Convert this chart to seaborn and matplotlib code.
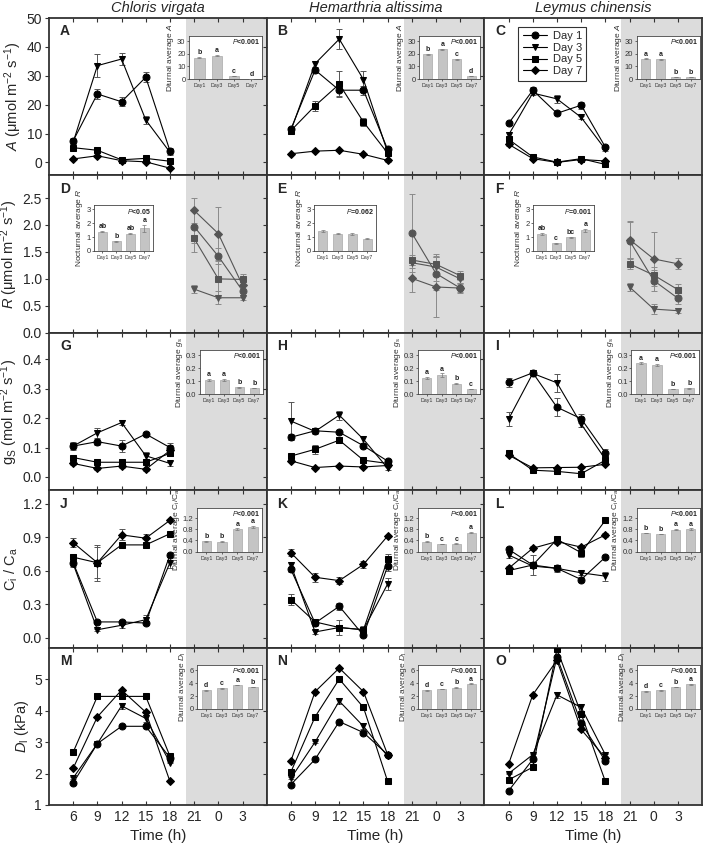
import numpy as np
import pandas as pd
import matplotlib
matplotlib.use("Agg")
import matplotlib.pyplot as plt
import seaborn as sns

# ---------------------------------------------------------------- data
SPECIES = ["Chloris virgata", "Hemarthria altissima", "Leymus chinensis"]
DAYS = ["Day 1", "Day 3", "Day 5", "Day 7"]
BAR_DAYS = ["Day1", "Day3", "Day5", "Day7"]
DAY_HOURS = [6, 9, 12, 15, 18]
NIGHT_HOURS = [21, 24, 27]
TIME_TICKS = [6, 9, 12, 15, 18, 21, 24, 27]
TIME_LABELS = ["6", "9", "12", "15", "18", "21", "0", "3"]

# net photosynthesis A (rows: Day 1, 3, 5, 7)
A_CV = [[7.5, 23.7, 21.0, 29.5, 4.0], [7.0, 33.5, 35.8, 14.7, 3.5],
        [5.1, 4.2, 0.9, 1.4, 0.4], [1.2, 2.3, 0.6, 0.2, -2.0]]
A_CV_ERR = [[1.0, 1.8, 1.5, 1.8, 1.0], [0.6, 4.0, 2.0, 1.5, 1.0],
            [0.6, 0.6, 0.5, 0.5, 0.3], [0.3, 0.4, 0.3, 0.3, 0.4]]
A_HA = [[11.5, 32.0, 25.0, 25.0, 4.5], [11.0, 34.2, 42.7, 28.7, 3.5],
        [11.0, 19.6, 27.1, 14.0, 3.2], [3.0, 3.9, 4.2, 2.8, 0.7]]
A_HA_ERR = [[0.8, 1.0, 2.0, 1.5, 0.8], [0.8, 1.0, 3.5, 3.0, 0.8],
            [0.8, 1.8, 4.5, 1.5, 0.8], [0.4, 0.4, 0.4, 0.4, 0.4]]
A_LC = [[13.5, 25.0, 17.0, 19.8, 5.3], [9.5, 24.0, 22.0, 15.6, 4.5],
        [8.0, 1.9, 0.1, 1.3, -0.7], [6.3, 1.3, 0.0, 1.0, 0.5]]
A_LC_ERR = [[0.5, 1.0, 0.6, 1.2, 0.8], [1.0, 0.8, 1.5, 0.6, 0.6],
            [0.6, 0.5, 0.5, 0.4, 0.4], [0.5, 0.5, 0.4, 0.4, 0.4]]

# night respiration R
R_CV = [[1.97, 1.42, 0.78], [0.81, 0.65, 0.65], [1.75, 1.0, 0.99], [2.27, 1.84, 0.88]]
R_CV_ERR = [[0.3, 0.15, 0.08], [0.07, 0.12, 0.04], [0.25, 0.35, 0.1], [0.23, 0.5, 0.1]]
R_HA = [[1.85, 1.1, 0.83], [1.30, 1.22, 1.0], [1.35, 1.27, 1.06], [1.01, 0.85, 0.83]]
R_HA_ERR = [[0.73, 0.3, 0.1], [0.1, 0.25, 0.08], [0.1, 0.15, 0.08], [0.25, 0.55, 0.08]]
R_LC = [[1.71, 0.97, 0.64], [0.85, 0.44, 0.41], [1.28, 1.07, 0.80], [1.73, 1.37, 1.28]]
R_LC_ERR = [[0.35, 0.2, 0.1], [0.07, 0.1, 0.05], [0.1, 0.15, 0.1], [0.35, 0.5, 0.1]]

# stomatal conductance gs
G_CV = [[0.105, 0.12, 0.105, 0.146, 0.10], [0.105, 0.15, 0.185, 0.072, 0.046],
        [0.066, 0.05, 0.05, 0.05, 0.08], [0.046, 0.029, 0.037, 0.026, 0.09]]
G_CV_ERR = [[0.015, 0.01, 0.02, 0.008, 0.015], [0.01, 0.017, 0.01, 0.012, 0.008],
            [0.005, 0.005, 0.005, 0.005, 0.01], [0.005, 0.005, 0.005, 0.005, 0.02]]
G_HA = [[0.135, 0.157, 0.152, 0.106, 0.054], [0.19, 0.155, 0.21, 0.128, 0.03],
        [0.071, 0.094, 0.125, 0.057, 0.046], [0.055, 0.032, 0.037, 0.034, 0.039]]
G_HA_ERR = [[0.01, 0.008, 0.005, 0.005, 0.006], [0.065, 0.01, 0.015, 0.012, 0.005],
            [0.006, 0.015, 0.01, 0.008, 0.006], [0.004, 0.003, 0.003, 0.003, 0.003]]
G_LC = [[0.322, 0.354, 0.237, 0.198, 0.082], [0.197, 0.352, 0.32, 0.18, 0.06],
        [0.08, 0.023, 0.019, 0.011, 0.057], [0.074, 0.031, 0.032, 0.033, 0.043]]
G_LC_ERR = [[0.015, 0.008, 0.03, 0.015, 0.012], [0.025, 0.01, 0.03, 0.01, 0.006],
            [0.005, 0.004, 0.004, 0.003, 0.005], [0.004, 0.003, 0.003, 0.003, 0.004]]

# Ci / Ca
C_CV = [[0.67, 0.14, 0.14, 0.13, 0.74], [0.66, 0.07, 0.11, 0.16, 0.67],
        [0.72, 0.67, 0.83, 0.83, 0.93], [0.85, 0.67, 0.92, 0.89, 1.05]]
C_CV_ERR = [[0.03, 0.01, 0.02, 0.02, 0.02], [0.03, 0.01, 0.02, 0.04, 0.05],
            [0.03, 0.14, 0.02, 0.01, 0.01], [0.04, 0.16, 0.05, 0.04, 0.01]]
C_HA = [[0.61, 0.13, 0.28, 0.02, 0.64], [0.65, 0.05, 0.09, 0.07, 0.48],
        [0.34, 0.14, 0.09, 0.07, 0.70], [0.76, 0.54, 0.51, 0.655, 0.91]]
C_HA_ERR = [[0.02, 0.03, 0.03, 0.01, 0.04], [0.03, 0.02, 0.02, 0.02, 0.05],
            [0.05, 0.03, 0.07, 0.03, 0.05], [0.03, 0.04, 0.03, 0.03, 0.01]]
C_LC = [[0.79, 0.65, 0.62, 0.52, 0.72], [0.74, 0.64, 0.62, 0.58, 0.55],
        [0.60, 0.65, 0.88, 0.76, 1.05], [0.62, 0.80, 0.86, 0.81, 0.92]]
C_LC_ERR = [[0.02, 0.02, 0.02, 0.02, 0.02], [0.03, 0.02, 0.03, 0.02, 0.04],
            [0.03, 0.09, 0.02, 0.04, 0.01], [0.02, 0.02, 0.02, 0.02, 0.02]]

# leaf-to-air vapour pressure deficit Dl
D_CV = [[1.70, 2.95, 3.50, 3.50, 2.50], [1.86, 2.95, 4.15, 3.75, 2.35],
        [2.68, 4.45, 4.45, 4.45, 2.55], [2.17, 3.80, 4.65, 3.95, 1.75]]
D_HA = [[1.65, 2.45, 3.65, 3.30, 2.60], [1.85, 3.00, 4.30, 3.50, 2.55],
        [2.05, 3.80, 5.00, 4.10, 1.75], [2.40, 4.60, 5.35, 4.60, 2.60]]
D_LC = [[1.45, 2.45, 5.70, 3.60, 2.40], [2.00, 2.60, 4.50, 4.10, 2.60],
        [1.80, 2.20, 5.95, 3.90, 1.75], [2.30, 4.50, 5.60, 3.40, 2.50]]
D_ERR = [[0.03] * 5, [0.03, 0.03, 0.1, 0.1, 0.03], [0.03] * 5, [0.03] * 5]

# inset bar charts (Day1, Day3, Day5, Day7)
A_BARS = [[17.0, 18.5, 2.5, 0.3], [19.5, 23.5, 15.5, 2.5], [16.0, 15.5, 1.5, 1.5]]
A_BARS_ERR = [[0.5, 0.6, 0.3, 0.1], [0.6, 0.6, 0.6, 0.3], [0.3, 0.3, 0.2, 0.2]]
A_LETTERS = [["b", "a", "c", "d"], ["b", "a", "c", "d"], ["a", "a", "b", "b"]]
A_P = ["P<0.001", "P<0.001", "P<0.001"]

R_BARS = [[1.4, 0.7, 1.25, 1.65], [1.45, 1.25, 1.22, 0.9], [1.2, 0.55, 1.0, 1.5]]
R_BARS_ERR = [[0.05, 0.04, 0.04, 0.25], [0.08, 0.04, 0.06, 0.04], [0.07, 0.04, 0.04, 0.1]]
R_LETTERS = [["ab", "b", "ab", "a"], ["", "", "", ""], ["ab", "c", "bc", "a"]]
R_P = ["P<0.05", "P=0.062", "P=0.001"]

G_BARS = [[0.11, 0.11, 0.055, 0.048], [0.125, 0.145, 0.08, 0.04], [0.24, 0.225, 0.04, 0.045]]
G_BARS_ERR = [[0.005, 0.005, 0.004, 0.003], [0.01, 0.015, 0.005, 0.003], [0.005, 0.006, 0.003, 0.003]]
G_LETTERS = [["a", "a", "b", "b"], ["a", "a", "b", "c"], ["a", "a", "b", "b"]]
G_P = ["P<0.001", "P<0.001", "P<0.001"]

C_BARS = [[0.37, 0.35, 0.8, 0.88], [0.35, 0.27, 0.28, 0.68], [0.66, 0.63, 0.79, 0.80]]
C_BARS_ERR = [[0.02, 0.02, 0.03, 0.03], [0.02, 0.01, 0.01, 0.02], [0.01, 0.01, 0.01, 0.03]]
C_LETTERS = [["b", "b", "a", "a"], ["b", "c", "c", "a"], ["b", "b", "a", "a"]]
C_P = ["P<0.001", "P<0.001", "P<0.001"]

D_BARS = [[2.9, 3.2, 3.7, 3.4], [2.9, 3.1, 3.3, 3.9], [2.7, 2.9, 3.4, 3.8]]
D_BARS_ERR = [[0.05, 0.05, 0.05, 0.05], [0.05, 0.05, 0.05, 0.05], [0.05, 0.05, 0.05, 0.05]]
D_LETTERS = [["d", "c", "a", "b"], ["d", "c", "b", "a"], ["d", "c", "b", "a"]]
D_P = ["P<0.001", "P<0.001", "P<0.001"]

# ---------------------------------------------------------------- style
sns.set_theme(style="ticks")
plt.rcParams['font.family'] = ['Liberation Sans', 'DejaVu Sans']
plt.rcParams['mathtext.fontset'] = 'custom'
plt.rcParams['mathtext.rm'] = 'Liberation Sans'
plt.rcParams['mathtext.it'] = 'Liberation Sans:italic'
plt.rcParams['mathtext.bf'] = 'Liberation Sans:bold'

MARKERS = {"Day 1": "o", "Day 3": "v", "Day 5": "s", "Day 7": "D"}
NIGHT_BG = "#dcdcdc"
SPINE = "#333333"

W, H = 708, 851
LEFT, PW, TOP, PH = 49, 217.7, 18, 157.4


def panel_rect(r, c):
    x = LEFT + c * PW
    y_bottom = TOP + (r + 1) * PH
    return [x / W, 1 - y_bottom / H, PW / W, PH / H]


def draw_lines(ax, hours, means, errs, color, ecolor, legend=False):
    rows = []
    for day, vals in zip(DAYS, means):
        for h, v in zip(hours, vals):
            rows.append({"time": h, "value": v, "day": day})
    df = pd.DataFrame(rows)
    for vals, err in zip(means, errs):
        ax.errorbar(hours, vals, yerr=err, fmt="none", ecolor=ecolor,
                    elinewidth=0.7, capsize=2.2, capthick=0.7, zorder=2)
    sns.lineplot(data=df, x="time", y="value", hue="day", style="day",
                 markers=MARKERS, dashes=False, palette=[color] * 4,
                 markersize=5, markeredgecolor=color, linewidth=0.8,
                 legend=legend, ax=ax, zorder=3)
    # diamonds look smaller in the original
    for ln in ax.get_lines():
        if ln.get_marker() == "D":
            ln.set_markersize(4)


def draw_inset(ax, rect, vals, errs, letters, ptext, yticks, ylabel, top):
    ins = ax.inset_axes(rect)
    ins.set_facecolor("white")
    sns.barplot(x=BAR_DAYS, y=vals, color="#c4c4c4", width=0.6,
                edgecolor="#9a9a9a", linewidth=0.4, ax=ins, zorder=2)
    ins.errorbar(range(4), vals, yerr=errs, fmt="none", ecolor="#777777",
                 elinewidth=0.5, capsize=1.2, capthick=0.5, zorder=3)
    ins.set_ylim(yticks[0], top)
    ins.set_xlim(-0.6, 3.6)
    ins.set_yticks(yticks)
    ins.set_yticklabels([f"{t:g}" if isinstance(t, int) else f"{t:.1f}" for t in yticks])
    for i, (v, e, l) in enumerate(zip(vals, errs, letters)):
        if l:
            ins.text(i, v + e + top * 0.02, l, ha="center", va="bottom",
                     fontsize=5, fontweight="bold", color="#222222")
    post = ptext[1:]
    ins.text(0.97, 0.97, r"$\mathbf{\it{P}}$" + post, transform=ins.transAxes,
             ha="right", va="top", fontsize=5, fontweight="bold", color="#222222")
    ins.set_xlabel("")
    ins.set_ylabel(ylabel, fontsize=6, labelpad=1, color="#333333")
    ins.tick_params(axis="x", labelsize=3.8, length=1.5, width=0.5, pad=1.5, colors="#333333")
    ins.tick_params(axis="y", labelsize=5.5, length=1.5, width=0.5, pad=1, colors="#333333")
    for s in ins.spines.values():
        s.set_linewidth(0.6)
        s.set_color("#444444")
    return ins


ROWS = [
    dict(means=[A_CV, A_HA, A_LC], errs=[A_CV_ERR, A_HA_ERR, A_LC_ERR], hours=DAY_HOURS,
         ylim=(-4.5, 50), yticks=[0, 10, 20, 30, 40, 50], yfmt="{:g}",
         ylabel=r"$\it{A}$ (μmol m$^{-2}$ s$^{-1}$)",
         bars=A_BARS, bars_err=A_BARS_ERR, letters=A_LETTERS, p=A_P,
         bar_ticks=[0, 10, 20, 30], bar_top=34, bar_label=r"Diurnal average $\it{A}$",
         inset_x=[0.643, 0.70, 0.70], inset_w=[0.335, 0.28, 0.29], inset_y=0.612, inset_h=0.273,
         color="black", ecolor="#555555"),
    dict(means=[R_CV, R_HA, R_LC], errs=[R_CV_ERR, R_HA_ERR, R_LC_ERR], hours=NIGHT_HOURS,
         ylim=(0, 2.92), yticks=[0.0, 0.5, 1.0, 1.5, 2.0, 2.5], yfmt="{:.1f}",
         ylabel=r"$\it{R}$ (μmol m$^{-2}$ s$^{-1}$)",
         bars=R_BARS, bars_err=R_BARS_ERR, letters=R_LETTERS, p=R_P,
         bar_ticks=[0, 1, 2, 3], bar_top=3.3, bar_label=r"Nocturnal average $\it{R}$",
         inset_x=[0.207, 0.217, 0.223], inset_w=[0.27, 0.285, 0.28], inset_y=0.52, inset_h=0.29,
         color="#555555", ecolor="#8a8a8a"),
    dict(means=[G_CV, G_HA, G_LC], errs=[G_CV_ERR, G_HA_ERR, G_LC_ERR], hours=DAY_HOURS,
         ylim=(-0.045, 0.49), yticks=[0.0, 0.1, 0.2, 0.3, 0.4], yfmt="{:.1f}",
         ylabel=r"g$_{\rm S}$ (mol m$^{-2}$ s$^{-1}$)",
         bars=G_BARS, bars_err=G_BARS_ERR, letters=G_LETTERS, p=G_P,
         bar_ticks=[0.0, 0.1, 0.2, 0.3], bar_top=0.34, bar_label=r"Diurnal average $\it{g}$$_{\rm s}$",
         inset_x=[0.694, 0.695, 0.675], inset_w=[0.29, 0.285, 0.31], inset_y=0.61, inset_h=0.28,
         color="black", ecolor="#555555"),
    dict(means=[C_CV, C_HA, C_LC], errs=[C_CV_ERR, C_HA_ERR, C_LC_ERR], hours=DAY_HOURS,
         ylim=(-0.09, 1.32), yticks=[0.0, 0.3, 0.6, 0.9, 1.2], yfmt="{:.1f}",
         ylabel=r"C$_{\rm i}$ / C$_{\rm a}$",
         bars=C_BARS, bars_err=C_BARS_ERR, letters=C_LETTERS, p=C_P,
         bar_ticks=[0.0, 0.4, 0.8, 1.2], bar_top=1.58, bar_label=r"Diurnal average C$_{\rm i}$/C$_{\rm a}$",
         inset_x=[0.68, 0.695, 0.70], inset_w=[0.30, 0.285, 0.29], inset_y=0.61, inset_h=0.28,
         color="black", ecolor="#555555"),
    dict(means=[D_CV, D_HA, D_LC], errs=[D_ERR, D_ERR, D_ERR], hours=DAY_HOURS,
         ylim=(1, 6), yticks=[1, 2, 3, 4, 5], yfmt="{:g}",
         ylabel=r"$\it{D}$$_{\rm l}$ (kPa)",
         bars=D_BARS, bars_err=D_BARS_ERR, letters=D_LETTERS, p=D_P,
         bar_ticks=[0, 2, 4, 6], bar_top=6.8, bar_label=r"Diurnal average $\it{D}$$_{\rm l}$",
         inset_x=[0.68, 0.695, 0.70], inset_w=[0.30, 0.285, 0.29], inset_y=0.61, inset_h=0.28,
         color="black", ecolor="#555555"),
]

LETTERS = "ABCDEFGHIJKLMNO"

fig = plt.figure(figsize=(7.08, 8.51), dpi=100)

for r, row in enumerate(ROWS):
    for c in range(3):
        ax = fig.add_axes(panel_rect(r, c))
        ax.axvspan(20, 30, color=NIGHT_BG, zorder=0, lw=0)
        draw_lines(ax, row["hours"], row["means"][c], row["errs"][c],
                   row["color"], row["ecolor"], legend=(r == 0 and c == 2))
        ax.set_xlim(3, 30)
        ax.set_ylim(*row["ylim"])
        ax.set_xticks(TIME_TICKS)
        ax.set_yticks(row["yticks"])
        ax.tick_params(axis="x", direction="in", top=True, bottom=True, length=3,
                       width=0.8, color=SPINE, labelsize=10)
        ax.tick_params(axis="y", direction="out", left=True, length=3, width=0.8,
                       color=SPINE, labelsize=10, pad=2)
        if r == len(ROWS) - 1:
            ax.set_xticklabels(TIME_LABELS)
            ax.set_xlabel("Time (h)", fontsize=11)
        else:
            ax.set_xticklabels([])
            ax.set_xlabel("")
        if c == 0:
            ax.set_yticklabels([row["yfmt"].format(t) for t in row["yticks"]])
            ax.set_ylabel(row["ylabel"], fontsize=10.5, labelpad=2)
        else:
            ax.set_yticklabels([])
            ax.set_ylabel("")
        for s in ax.spines.values():
            s.set_linewidth(1.3)
            s.set_color(SPINE)
        ax.text(0.05, 0.915, LETTERS[r * 3 + c], transform=ax.transAxes,
                fontsize=10, fontweight="bold", ha="left", va="center")
        if r == 0:
            ax.set_title(SPECIES[c], fontsize=10.5, style="italic", pad=4)
        if r == 0 and c == 2:
            handles, labels = ax.get_legend_handles_labels()
            for hd in handles:
                if hd.get_marker() == "D":
                    hd.set_markersize(4)
            leg = ax.legend(handles, labels, loc="upper left", bbox_to_anchor=(0.155, 0.945),
                            fontsize=8, frameon=True, fancybox=False, handlelength=2.2,
                            borderpad=0.4, labelspacing=0.15, handletextpad=0.5,
                            borderaxespad=0)
            leg.get_frame().set_edgecolor("black")
            leg.get_frame().set_linewidth(0.8)
        rect = [row["inset_x"][c], row["inset_y"], row["inset_w"][c], row["inset_h"]]
        draw_inset(ax, rect, row["bars"][c], row["bars_err"][c], row["letters"][c],
                   row["p"][c], row["bar_ticks"], row["bar_label"], row["bar_top"])

fig.savefig("out.png", dpi=100)
